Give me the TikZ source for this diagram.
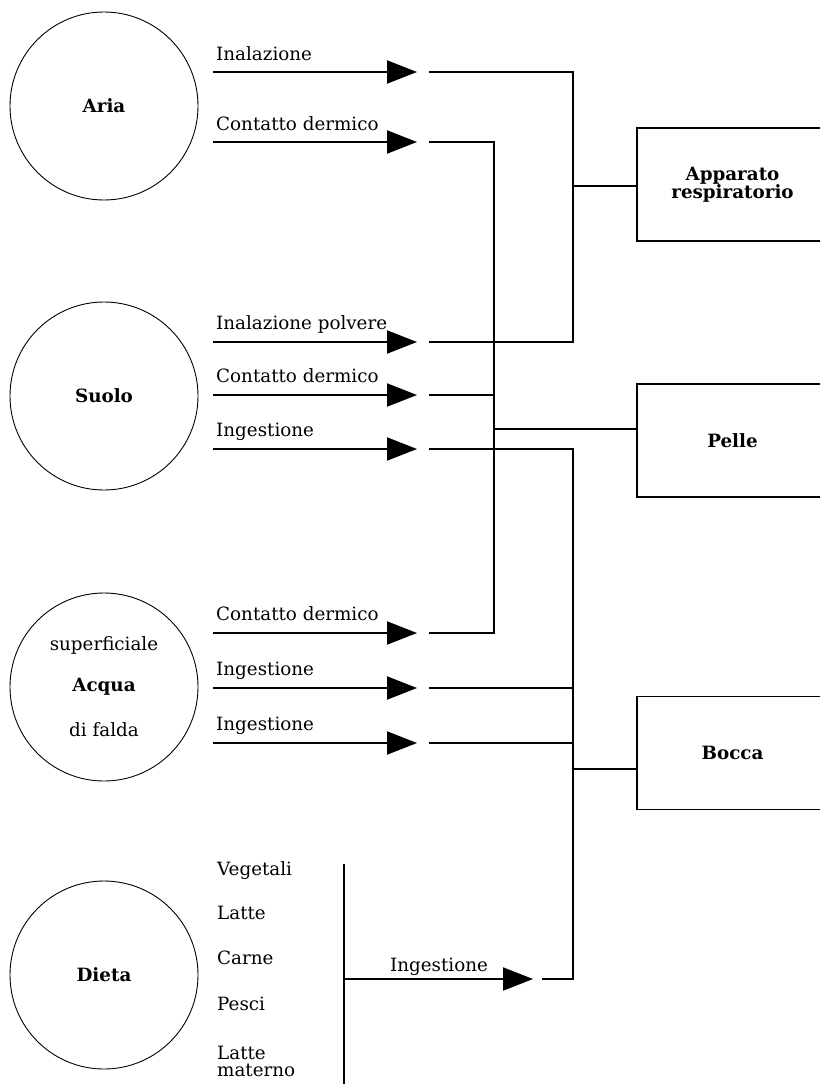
\documentclass[tikz,border=0pt]{standalone}
\usepackage{fontspec}
\setmainfont{DejaVu Serif}
\usetikzlibrary{arrows.meta}
\begin{document}
\begin{tikzpicture}[x=1pt,y=-1pt,
  txt/.style={font=\fontsize{18.3}{18}\selectfont},
  btxt/.style={font=\fontsize{18.3}{18}\selectfont\bfseries},
  source/.style={draw,circle,minimum size=188pt,inner sep=0pt,line width=0.9pt,btxt},
  organ/.style={draw,rectangle,minimum width=191pt,minimum height=113pt,inner sep=0pt,line width=1.4pt,
    btxt,align=center},
  route/.style={line width=2pt,-{Triangle[length=30pt,width=23pt]}},
  feed/.style={line width=2pt},
  lbl/.style={inner sep=0pt,anchor=base west,txt},
  item/.style={inner sep=0pt,anchor=west,align=left,font=\fontsize{18.3}{17}\selectfont}]
\useasboundingbox (0,0) rectangle (820,1084);
\clip (0,0) rectangle (820,1084);

% sources
\node[source] (aria)  at (104,106) {Aria};
\node[source] (suolo) at (104,396) {Suolo};
\node[source] (acqua) at (104,687) {Acqua};
\node[inner sep=0pt,txt] (acqsup) at (104,645) {superficiale};
\node[inner sep=0pt,txt] (acqfal) at (104,730) {di falda};
\node[source] (dieta) at (104,975) {Dieta};

% targets
\node[organ] (resp)  at (732.5,184.5) {Apparato\\respiratorio};
\node[organ] (pelle) at (732.5,440.5) {Pelle};
\node[organ] (bocca) at (732.5,753)   {Bocca};

% route start, arrow tip and outgoing point of each pathway
\foreach \n/\y in {1/72,2/142,3/342,4/395,5/449,6/633,7/688,8/743}{
  \coordinate (s\n) at (213,\y);
  \coordinate (t\n) at (417,\y);
  \coordinate (o\n) at (429,\y);
}
\coordinate (s9) at (344,979);
\coordinate (t9) at (533,979);
\coordinate (o9) at (542,979);

% collecting buses
\coordinate (jr) at (573,186);
\coordinate (jp) at (494,429);
\coordinate (jb) at (573,769);

% pathway labels
\node[lbl] (l1) at (216,60)  {Inalazione};
\node[lbl] (l2) at (216,130) {Contatto dermico};
\node[lbl] (l3) at (216,329) {Inalazione polvere};
\node[lbl] (l4) at (216,382) {Contatto dermico};
\node[lbl] (l5) at (216,436) {Ingestione};
\node[lbl] (l6) at (216,620) {Contatto dermico};
\node[lbl] (l7) at (216,675) {Ingestione};
\node[lbl] (l8) at (216,730) {Ingestione};
\node[lbl,anchor=base] (l9) at (439,971) {Ingestione};

% diet items
\node[item] (veg)  at (217,871)  {Vegetali};
\node[item] (lat)  at (217,913)  {Latte};
\node[item] (car)  at (217,958)  {Carne};
\node[item] (pes)  at (217,1004) {Pesci};
\node[item] (latm) at (217,1061) {Latte\\materno};

% diet bracket
\coordinate (dbt) at (344,864);
\coordinate (dbb) at (344,1090);
\draw[feed] (dbt) -- (dbb);

% arrows
\foreach \n in {1,...,9}{ \draw[route] (s\n) -- (t\n); }

% into the respiratory tract
\draw[feed] (o1) -| (jr);
\draw[feed] (o3) -| (jr);
\draw[feed] (jr) -- (jr -| resp.west);

% onto the skin
\draw[feed] (o2) -| (jp);
\draw[feed] (o4) -| (jp);
\draw[feed] (o6) -| (jp);
\draw[feed] (jp) -- (jp -| pelle.west);

% into the mouth
\draw[feed] (o5) -| (jb);
\draw[feed] (o7) -| (jb);
\draw[feed] (o8) -| (jb);
\draw[feed] (o9) -| (jb);
\draw[feed] (jb) -- (jb -| bocca.west);
\end{tikzpicture}
\end{document}
